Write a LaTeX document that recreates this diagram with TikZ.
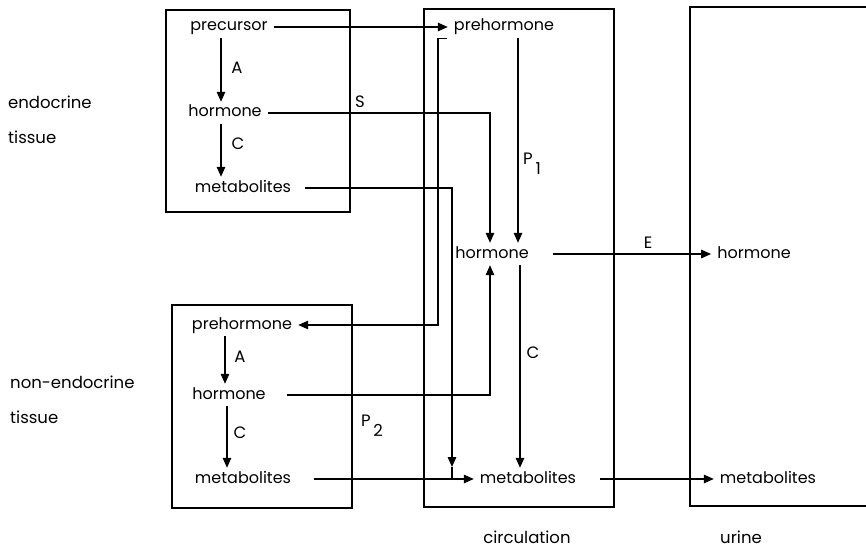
\documentclass[tikz,border=0pt]{standalone}
\usepackage{fontspec}
\setmainfont{Poppins}
\usetikzlibrary{arrows.meta, positioning, calc}
\tikzset{
  term/.style={inner xsep=6pt, inner ysep=4pt, text height=11pt, text depth=3pt,
    font=\fontsize{16}{19}\selectfont},
  tag/.style={inner sep=0pt, font=\fontsize{16.5}{19}\selectfont},
  region/.style={draw, line width=1.4pt},
  arrow/.style={-{Triangle[length=10pt,width=8.5pt]}, line width=1.35pt},
  line/.style={line width=1.35pt}
}

\begin{document}
\begin{tikzpicture}[x=1pt, y=-1pt]
  \useasboundingbox (0,0) rectangle (866,548);
  % ── Compartments ──────────────────────────────────────────────────
  \draw[region] (166,10) rectangle (350,212);    % endocrine tissue
  \draw[region] (172,305) rectangle (352,508);   % non-endocrine tissue
  \draw[region] (424,9) rectangle (614,507);     % circulation
  \draw[region] (866,7) -- (690,7) -- (690,506) -- (866,506);  % urine

  % ── Compartment names ─────────────────────────────────────────────
  \node[tag, anchor=west] (endoName)  at (8,102) {endocrine};
  \node[tag, anchor=west] (endoTis)   at (8,137) {tissue};
  \node[tag, anchor=west] (nonName)   at (10,382) {non-endocrine};
  \node[tag, anchor=west] (nonTis)    at (10,417) {tissue};
  \node[tag]              (circName)  at (527,537) {circulation};
  \node[tag]              (urineName) at (741,537) {urine};

  % ── Endocrine tissue ──────────────────────────────────────────────
  \node[term] (ePre) at (229,27)  {precursor};
  \node[term] (eHor) at (225,113) {hormone};
  \node[term] (eMet) at (243,188) {metabolites};
  \draw[arrow] ([xshift=-8pt]ePre.south) -- ([xshift=-8pt]ePre.south |- eHor.north);
  \draw[arrow] ([xshift=-4pt]eHor.south) -- ([xshift=-4pt]eHor.south |- eMet.north);
  \node[tag] (eA) at (237,68)  {A};
  \node[tag] (eC) at (238,144) {C};

  % ── Non-endocrine tissue ──────────────────────────────────────────
  \node[term] (nPre) at (242,325) {prehormone};
  \node[term] (nHor) at (229,395) {hormone};
  \node[term] (nMet) at (243,479) {metabolites};
  \draw[arrow] ([xshift=-17pt]nPre.south) -- ([xshift=-17pt]nPre.south |- nHor.north);
  \draw[arrow] ([xshift=-2pt]nHor.south) -- ([xshift=-2pt]nHor.south |- nMet.north);
  \node[tag] (nA) at (240,357) {A};
  \node[tag] (nC) at (240,433) {C};

  % ── Circulation and urine ─────────────────────────────────────────
  \node[term] (cPre) at (504,27)  {prehormone};
  \node[term] (cHor) at (492,254) {hormone};
  \node[term] (cMet) at (528,479) {metabolites};
  \node[term] (uHor) at (754,254) {hormone};
  \node[term] (uMet) at (768,479) {metabolites};

  % ── Transfers ─────────────────────────────────────────────────────
  \coordinate (preDrop) at (438,325);
  \coordinate (metDrop) at (452,467);
  \draw[arrow] (ePre.east) -- (cPre.west);
  \draw[arrow] ([xshift=-1pt]cPre.south west) -| (preDrop) -- (nPre.east);
  \draw[arrow] (eHor.east) -| ([xshift=-2pt]cHor.north);
  \draw[arrow] ([xshift=14pt]cPre.south) -- ([xshift=14pt]cPre.south |- cHor.north);
  \draw[arrow, shorten <=8pt] (eMet.east) -| (metDrop);
  \draw[line] (metDrop) -- (metDrop |- nMet);
  \draw[arrow, shorten <=15pt] (nHor.east) -| ([xshift=-2pt]cHor.south);
  \draw[arrow] ([xshift=28pt]cHor.south) -- ([xshift=28pt]cHor.south |- cMet.north);
  \draw[arrow, shorten <=18pt] (cHor.east) -- (uHor.west);
  \draw[arrow, shorten <=17pt] (nMet.east) -- (cMet.west);
  \draw[arrow, shorten <=18pt] (cMet.east) -- (uMet.west);
  \node[tag] (sTag)  at (360,102) {S};
  \node[tag] (p1Tag) at (532,164) {P\,\raisebox{-10pt}{1}};
  \node[tag] (p2Tag) at (372,426) {P\,\raisebox{-10pt}{2}};
  \node[tag] (cTag)  at (533,353) {C};
  \node[tag] (eTag)  at (648,243) {E};
\end{tikzpicture}
\end{document}
